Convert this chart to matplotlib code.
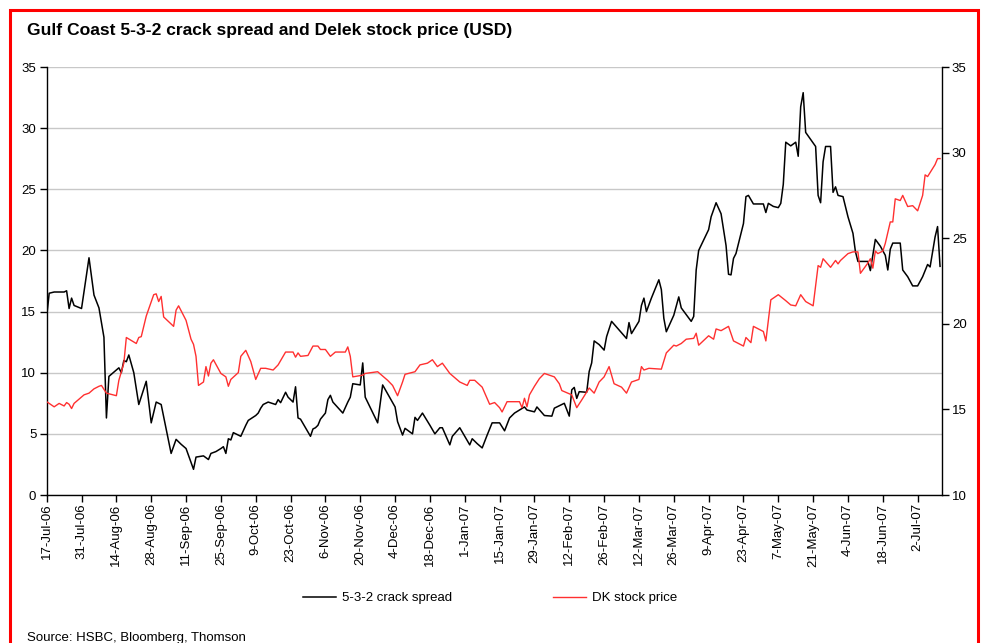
import matplotlib
matplotlib.use("Agg")
import matplotlib.pyplot as plt
from matplotlib.patches import Rectangle
from matplotlib.lines import Line2D
import pandas as pd
from matplotlib import font_manager

names = {f.name for f in font_manager.fontManager.ttflist}
FONT = "Liberation Sans Narrow" if "Liberation Sans Narrow" in names else "Liberation Sans"
plt.rcParams["font.family"] = [FONT, "DejaVu Sans"]

title = "Gulf Coast 5-3-2 crack spread and Delek stock price (USD)"
source = "Source: HSBC, Bloomberg, Thomson"
crack_label = "5-3-2 crack spread"
dk_label = "DK stock price"

crack_dates = [
    "17-Jul-06", "18-Jul-06", "20-Jul-06", "24-Jul-06", "25-Jul-06", "26-Jul-06", "27-Jul-06", "28-Jul-06",
    "31-Jul-06", "3-Aug-06", "5-Aug-06", "7-Aug-06", "9-Aug-06", "10-Aug-06", "11-Aug-06", "15-Aug-06",
    "16-Aug-06", "17-Aug-06", "18-Aug-06", "19-Aug-06", "21-Aug-06", "23-Aug-06", "26-Aug-06", "28-Aug-06",
    "30-Aug-06", "1-Sep-06", "5-Sep-06", "7-Sep-06", "9-Sep-06", "11-Sep-06", "14-Sep-06", "15-Sep-06",
    "18-Sep-06", "20-Sep-06", "21-Sep-06", "23-Sep-06", "25-Sep-06", "26-Sep-06", "27-Sep-06", "28-Sep-06",
    "29-Sep-06", "30-Sep-06", "3-Oct-06", "5-Oct-06", "6-Oct-06", "9-Oct-06", "10-Oct-06", "11-Oct-06",
    "12-Oct-06", "14-Oct-06", "17-Oct-06", "18-Oct-06", "19-Oct-06", "21-Oct-06", "22-Oct-06", "24-Oct-06",
    "25-Oct-06", "26-Oct-06", "27-Oct-06", "31-Oct-06", "1-Nov-06", "2-Nov-06", "3-Nov-06", "4-Nov-06",
    "6-Nov-06", "7-Nov-06", "8-Nov-06", "9-Nov-06", "13-Nov-06", "15-Nov-06", "16-Nov-06", "17-Nov-06",
    "20-Nov-06", "21-Nov-06", "22-Nov-06", "27-Nov-06", "29-Nov-06", "4-Dec-06", "5-Dec-06", "7-Dec-06",
    "8-Dec-06", "11-Dec-06", "12-Dec-06", "13-Dec-06", "15-Dec-06", "18-Dec-06", "20-Dec-06", "22-Dec-06",
    "23-Dec-06", "26-Dec-06", "27-Dec-06", "30-Dec-06", "3-Jan-07", "4-Jan-07", "6-Jan-07", "8-Jan-07",
    "10-Jan-07", "12-Jan-07", "15-Jan-07", "17-Jan-07", "19-Jan-07", "21-Jan-07", "25-Jan-07", "26-Jan-07",
    "29-Jan-07", "30-Jan-07", "2-Feb-07", "5-Feb-07", "6-Feb-07", "10-Feb-07", "12-Feb-07", "13-Feb-07",
    "14-Feb-07", "15-Feb-07", "16-Feb-07", "19-Feb-07", "20-Feb-07", "21-Feb-07", "22-Feb-07", "24-Feb-07",
    "26-Feb-07", "27-Feb-07", "1-Mar-07", "7-Mar-07", "8-Mar-07", "9-Mar-07", "12-Mar-07", "13-Mar-07",
    "14-Mar-07", "15-Mar-07", "17-Mar-07", "20-Mar-07", "21-Mar-07", "22-Mar-07", "23-Mar-07", "26-Mar-07",
    "28-Mar-07", "29-Mar-07", "2-Apr-07", "3-Apr-07", "4-Apr-07", "5-Apr-07", "9-Apr-07", "10-Apr-07",
    "12-Apr-07", "14-Apr-07", "16-Apr-07", "17-Apr-07", "18-Apr-07", "19-Apr-07", "20-Apr-07", "23-Apr-07",
    "24-Apr-07", "25-Apr-07", "27-Apr-07", "1-May-07", "2-May-07", "3-May-07", "5-May-07", "7-May-07",
    "8-May-07", "9-May-07", "10-May-07", "12-May-07", "14-May-07", "15-May-07", "16-May-07", "17-May-07",
    "18-May-07", "22-May-07", "23-May-07", "24-May-07", "25-May-07", "26-May-07", "28-May-07", "29-May-07",
    "30-May-07", "31-May-07", "2-Jun-07", "4-Jun-07", "6-Jun-07", "7-Jun-07", "8-Jun-07", "12-Jun-07",
    "13-Jun-07", "15-Jun-07", "17-Jun-07", "19-Jun-07", "20-Jun-07", "21-Jun-07", "22-Jun-07", "25-Jun-07",
    "26-Jun-07", "28-Jun-07", "30-Jun-07", "2-Jul-07", "4-Jul-07", "6-Jul-07", "7-Jul-07", "9-Jul-07",
    "10-Jul-07", "11-Jul-07",
]
crack_values = [
    14.6, 16.5, 16.6, 16.6, 16.7, 15.25, 16.1, 15.5,
    15.25, 19.4, 16.35, 15.3, 12.9, 6.3, 9.7, 10.4,
    10.0, 11.0, 10.9, 11.45, 10.0, 7.4, 9.3, 5.9,
    7.6, 7.4, 3.4, 4.55, 4.15, 3.8, 2.1, 3.1,
    3.2, 2.9, 3.4, 3.55, 3.8, 3.95, 3.4, 4.6,
    4.5, 5.1, 4.8, 5.7, 6.1, 6.5, 6.7, 7.1,
    7.4, 7.6, 7.4, 7.8, 7.55, 8.4, 8.0, 7.6,
    8.85, 6.3, 6.2, 4.8, 5.4, 5.5, 5.7, 6.2,
    6.7, 7.8, 8.15, 7.6, 6.7, 7.6, 8.0, 9.1,
    9.0, 10.8, 8.0, 5.9, 9.0, 7.2, 6.0, 4.9,
    5.45, 5.0, 6.35, 6.1, 6.7, 5.7, 5.0, 5.5,
    5.5, 4.1, 4.8, 5.5, 4.1, 4.6, 4.2, 3.85,
    4.9, 5.9, 5.9, 5.25, 6.3, 6.7, 7.2, 6.95,
    6.8, 7.2, 6.5, 6.45, 7.1, 7.5, 6.45, 8.6,
    8.8, 7.9, 8.45, 8.4, 10.1, 10.8, 12.6, 12.3,
    11.85, 12.95, 14.2, 12.8, 14.1, 13.2, 14.2, 15.5,
    16.1, 15.0, 16.1, 17.6, 16.8, 14.45, 13.35, 14.7,
    16.2, 15.3, 14.2, 14.6, 18.4, 20.0, 21.7, 22.75,
    23.9, 23.0, 20.4, 18.05, 18.0, 19.35, 19.75, 22.2,
    24.4, 24.5, 23.8, 23.8, 23.1, 23.85, 23.6, 23.5,
    23.85, 25.4, 28.85, 28.55, 28.85, 27.7, 31.75, 32.9,
    29.65, 28.5, 24.5, 23.9, 27.25, 28.5, 28.5, 24.75,
    25.2, 24.5, 24.4, 22.75, 21.4, 19.9, 19.1, 19.1,
    18.35, 20.9, 20.35, 19.6, 18.4, 20.1, 20.6, 20.6,
    18.4, 17.85, 17.1, 17.1, 17.85, 18.85, 18.65, 21.1,
    21.95, 18.7,
]

dk_dates = [
    "17-Jul-06", "18-Jul-06", "20-Jul-06", "22-Jul-06", "24-Jul-06", "25-Jul-06", "26-Jul-06", "27-Jul-06",
    "28-Jul-06", "1-Aug-06", "3-Aug-06", "5-Aug-06", "7-Aug-06", "8-Aug-06", "10-Aug-06", "14-Aug-06",
    "15-Aug-06", "17-Aug-06", "18-Aug-06", "22-Aug-06", "23-Aug-06", "24-Aug-06", "26-Aug-06", "29-Aug-06",
    "30-Aug-06", "31-Aug-06", "1-Sep-06", "2-Sep-06", "6-Sep-06", "7-Sep-06", "8-Sep-06", "11-Sep-06",
    "13-Sep-06", "14-Sep-06", "15-Sep-06", "16-Sep-06", "18-Sep-06", "19-Sep-06", "20-Sep-06", "21-Sep-06",
    "22-Sep-06", "25-Sep-06", "27-Sep-06", "28-Sep-06", "29-Sep-06", "2-Oct-06", "3-Oct-06", "5-Oct-06",
    "7-Oct-06", "9-Oct-06", "11-Oct-06", "13-Oct-06", "16-Oct-06", "18-Oct-06", "21-Oct-06", "24-Oct-06",
    "25-Oct-06", "26-Oct-06", "27-Oct-06", "30-Oct-06", "1-Nov-06", "3-Nov-06", "4-Nov-06", "6-Nov-06",
    "8-Nov-06", "10-Nov-06", "14-Nov-06", "15-Nov-06", "16-Nov-06", "17-Nov-06", "21-Nov-06", "22-Nov-06",
    "27-Nov-06", "1-Dec-06", "3-Dec-06", "5-Dec-06", "7-Dec-06", "8-Dec-06", "12-Dec-06", "14-Dec-06",
    "17-Dec-06", "19-Dec-06", "21-Dec-06", "23-Dec-06", "26-Dec-06", "30-Dec-06", "2-Jan-07", "3-Jan-07",
    "5-Jan-07", "8-Jan-07", "11-Jan-07", "13-Jan-07", "15-Jan-07", "16-Jan-07", "18-Jan-07", "23-Jan-07",
    "24-Jan-07", "25-Jan-07", "26-Jan-07", "27-Jan-07", "29-Jan-07", "31-Jan-07", "2-Feb-07", "6-Feb-07",
    "8-Feb-07", "9-Feb-07", "13-Feb-07", "15-Feb-07", "17-Feb-07", "20-Feb-07", "22-Feb-07", "24-Feb-07",
    "26-Feb-07", "28-Feb-07", "2-Mar-07", "5-Mar-07", "7-Mar-07", "9-Mar-07", "12-Mar-07", "13-Mar-07",
    "14-Mar-07", "16-Mar-07", "21-Mar-07", "23-Mar-07", "26-Mar-07", "27-Mar-07", "29-Mar-07", "31-Mar-07",
    "3-Apr-07", "4-Apr-07", "5-Apr-07", "9-Apr-07", "11-Apr-07", "12-Apr-07", "14-Apr-07", "17-Apr-07",
    "19-Apr-07", "23-Apr-07", "24-Apr-07", "26-Apr-07", "27-Apr-07", "1-May-07", "2-May-07", "4-May-07",
    "7-May-07", "10-May-07", "12-May-07", "14-May-07", "16-May-07", "18-May-07", "21-May-07", "23-May-07",
    "24-May-07", "25-May-07", "28-May-07", "30-May-07", "31-May-07", "1-Jun-07", "4-Jun-07", "6-Jun-07",
    "8-Jun-07", "9-Jun-07", "12-Jun-07", "13-Jun-07", "14-Jun-07", "15-Jun-07", "16-Jun-07", "18-Jun-07",
    "19-Jun-07", "21-Jun-07", "22-Jun-07", "23-Jun-07", "25-Jun-07", "26-Jun-07", "28-Jun-07", "30-Jun-07",
    "2-Jul-07", "4-Jul-07", "5-Jul-07", "6-Jul-07", "9-Jul-07", "10-Jul-07", "11-Jul-07",
]
dk_values = [
    15.45, 15.35, 15.15, 15.35, 15.2, 15.4, 15.3, 15.05,
    15.35, 15.85, 15.95, 16.2, 16.35, 16.4, 15.95, 15.8,
    16.7, 17.7, 19.2, 18.85, 19.2, 19.25, 20.45, 21.7,
    21.75, 21.3, 21.6, 20.4, 19.85, 20.8, 21.05, 20.2,
    19.1, 18.8, 18.1, 16.4, 16.6, 17.5, 16.95, 17.7,
    17.9, 17.1, 16.9, 16.35, 16.75, 17.15, 18.1, 18.45,
    17.8, 16.75, 17.4, 17.4, 17.3, 17.6, 18.35, 18.35,
    18.05, 18.3, 18.1, 18.15, 18.7, 18.7, 18.5, 18.5,
    18.1, 18.35, 18.35, 18.65, 18.1, 16.9, 17.0, 17.1,
    17.2, 16.7, 16.4, 15.8, 16.6, 17.05, 17.2, 17.6,
    17.7, 17.9, 17.5, 17.7, 17.1, 16.6, 16.4, 16.7,
    16.7, 16.3, 15.3, 15.4, 15.1, 14.85, 15.45, 15.45,
    15.1, 15.65, 15.15, 15.85, 16.35, 16.8, 17.1, 16.9,
    16.5, 16.1, 15.85, 15.1, 15.55, 16.25, 15.95, 16.6,
    16.9, 17.5, 16.5, 16.3, 15.95, 16.6, 16.75, 17.5,
    17.3, 17.4, 17.35, 18.3, 18.75, 18.7, 18.85, 19.1,
    19.15, 19.45, 18.75, 19.3, 19.1, 19.7, 19.6, 19.85,
    19.0, 18.7, 19.2, 18.9, 19.85, 19.55, 19.0, 21.4,
    21.7, 21.35, 21.1, 21.05, 21.7, 21.3, 21.05, 23.4,
    23.3, 23.8, 23.3, 23.7, 23.5, 23.7, 24.1, 24.2,
    24.2, 22.95, 23.55, 23.8, 23.25, 24.25, 24.1, 24.25,
    24.7, 25.95, 25.95, 27.3, 27.2, 27.5, 26.85, 26.9,
    26.6, 27.5, 28.7, 28.6, 29.3, 29.65, 29.65,
]

x_start = "17-Jul-06"
x_end = "11-Jul-07"
tick_start = "17-Jul-06"
tick_count = 26
tick_step_days = 14
left_ticks = [0, 5, 10, 15, 20, 25, 30, 35]
right_ticks = [10, 15, 20, 25, 30, 35]

fmt = "%d-%b-%y"
cd = pd.to_datetime(crack_dates, format=fmt)
dd = pd.to_datetime(dk_dates, format=fmt)

W, H = 981, 643
fig = plt.figure(figsize=(W / 100, H / 100), dpi=100)

# red frame
fig.patches.append(Rectangle((10 / W, -0.05), 968 / W, 1.05 - 10 / H, transform=fig.transFigure,
                             fill=False, edgecolor="#ff0000", linewidth=2.2, zorder=10))

fig.text(27 / W, 1 - 30 / H, title, fontsize=12.6, fontweight="bold", ha="left", va="center")

ax = fig.add_axes([46.7 / W, 1 - 495 / H, (941.5 - 46.7) / W, (495 - 67) / H])
ax2 = ax.twinx()

ax.set_ylim(0, 35)
ax.set_yticks(left_ticks)
ax2.set_ylim(10, 35)
ax2.set_yticks(right_ticks)
ax.yaxis.grid(True, color="#c8c8c8", linewidth=1.0)
ax.set_axisbelow(True)

ax.plot(cd, crack_values, color="black", linewidth=1.1, zorder=3)
ax2.plot(dd, dk_values, color="#ff3030", linewidth=1.0, zorder=3)

ax.set_xlim(pd.to_datetime(x_start, format=fmt), pd.to_datetime(x_end, format=fmt) + pd.Timedelta(hours=14))
ticks = pd.date_range(pd.to_datetime(tick_start, format=fmt), periods=tick_count, freq=f"{tick_step_days}D")
ax.set_xticks(ticks)
ax.set_xticklabels([f"{t.day}-{t:%b-%y}" for t in ticks], rotation=90, fontsize=9.5)

for a in (ax, ax2):
    a.spines["top"].set_visible(False)
    for s in ("left", "right", "bottom"):
        a.spines[s].set_linewidth(1.0)
        a.spines[s].set_color("black")
ax.spines["right"].set_visible(False)
ax2.spines["left"].set_visible(False)
ax2.spines["bottom"].set_visible(False)

ax.tick_params(axis="y", direction="out", length=5, width=1, labelsize=9.5, pad=2.5)
ax2.tick_params(axis="y", direction="out", length=5, width=1, labelsize=9.5, pad=2.5)
ax.tick_params(axis="x", direction="out", length=5, width=1, pad=1)

handles = [Line2D([], [], color="black", linewidth=1.1), Line2D([], [], color="#ff3030", linewidth=1.0)]
fig.legend(handles, [crack_label, dk_label], loc="center", bbox_to_anchor=(490 / W, 1 - 598 / H),
           ncol=2, frameon=False, fontsize=9.5, handlelength=2.5, handletextpad=0.5, columnspacing=7.6)

fig.text(27 / W, 1 - 632 / H, source, fontsize=9.5, ha="left", va="top")

fig.savefig("out.png", dpi=100)
